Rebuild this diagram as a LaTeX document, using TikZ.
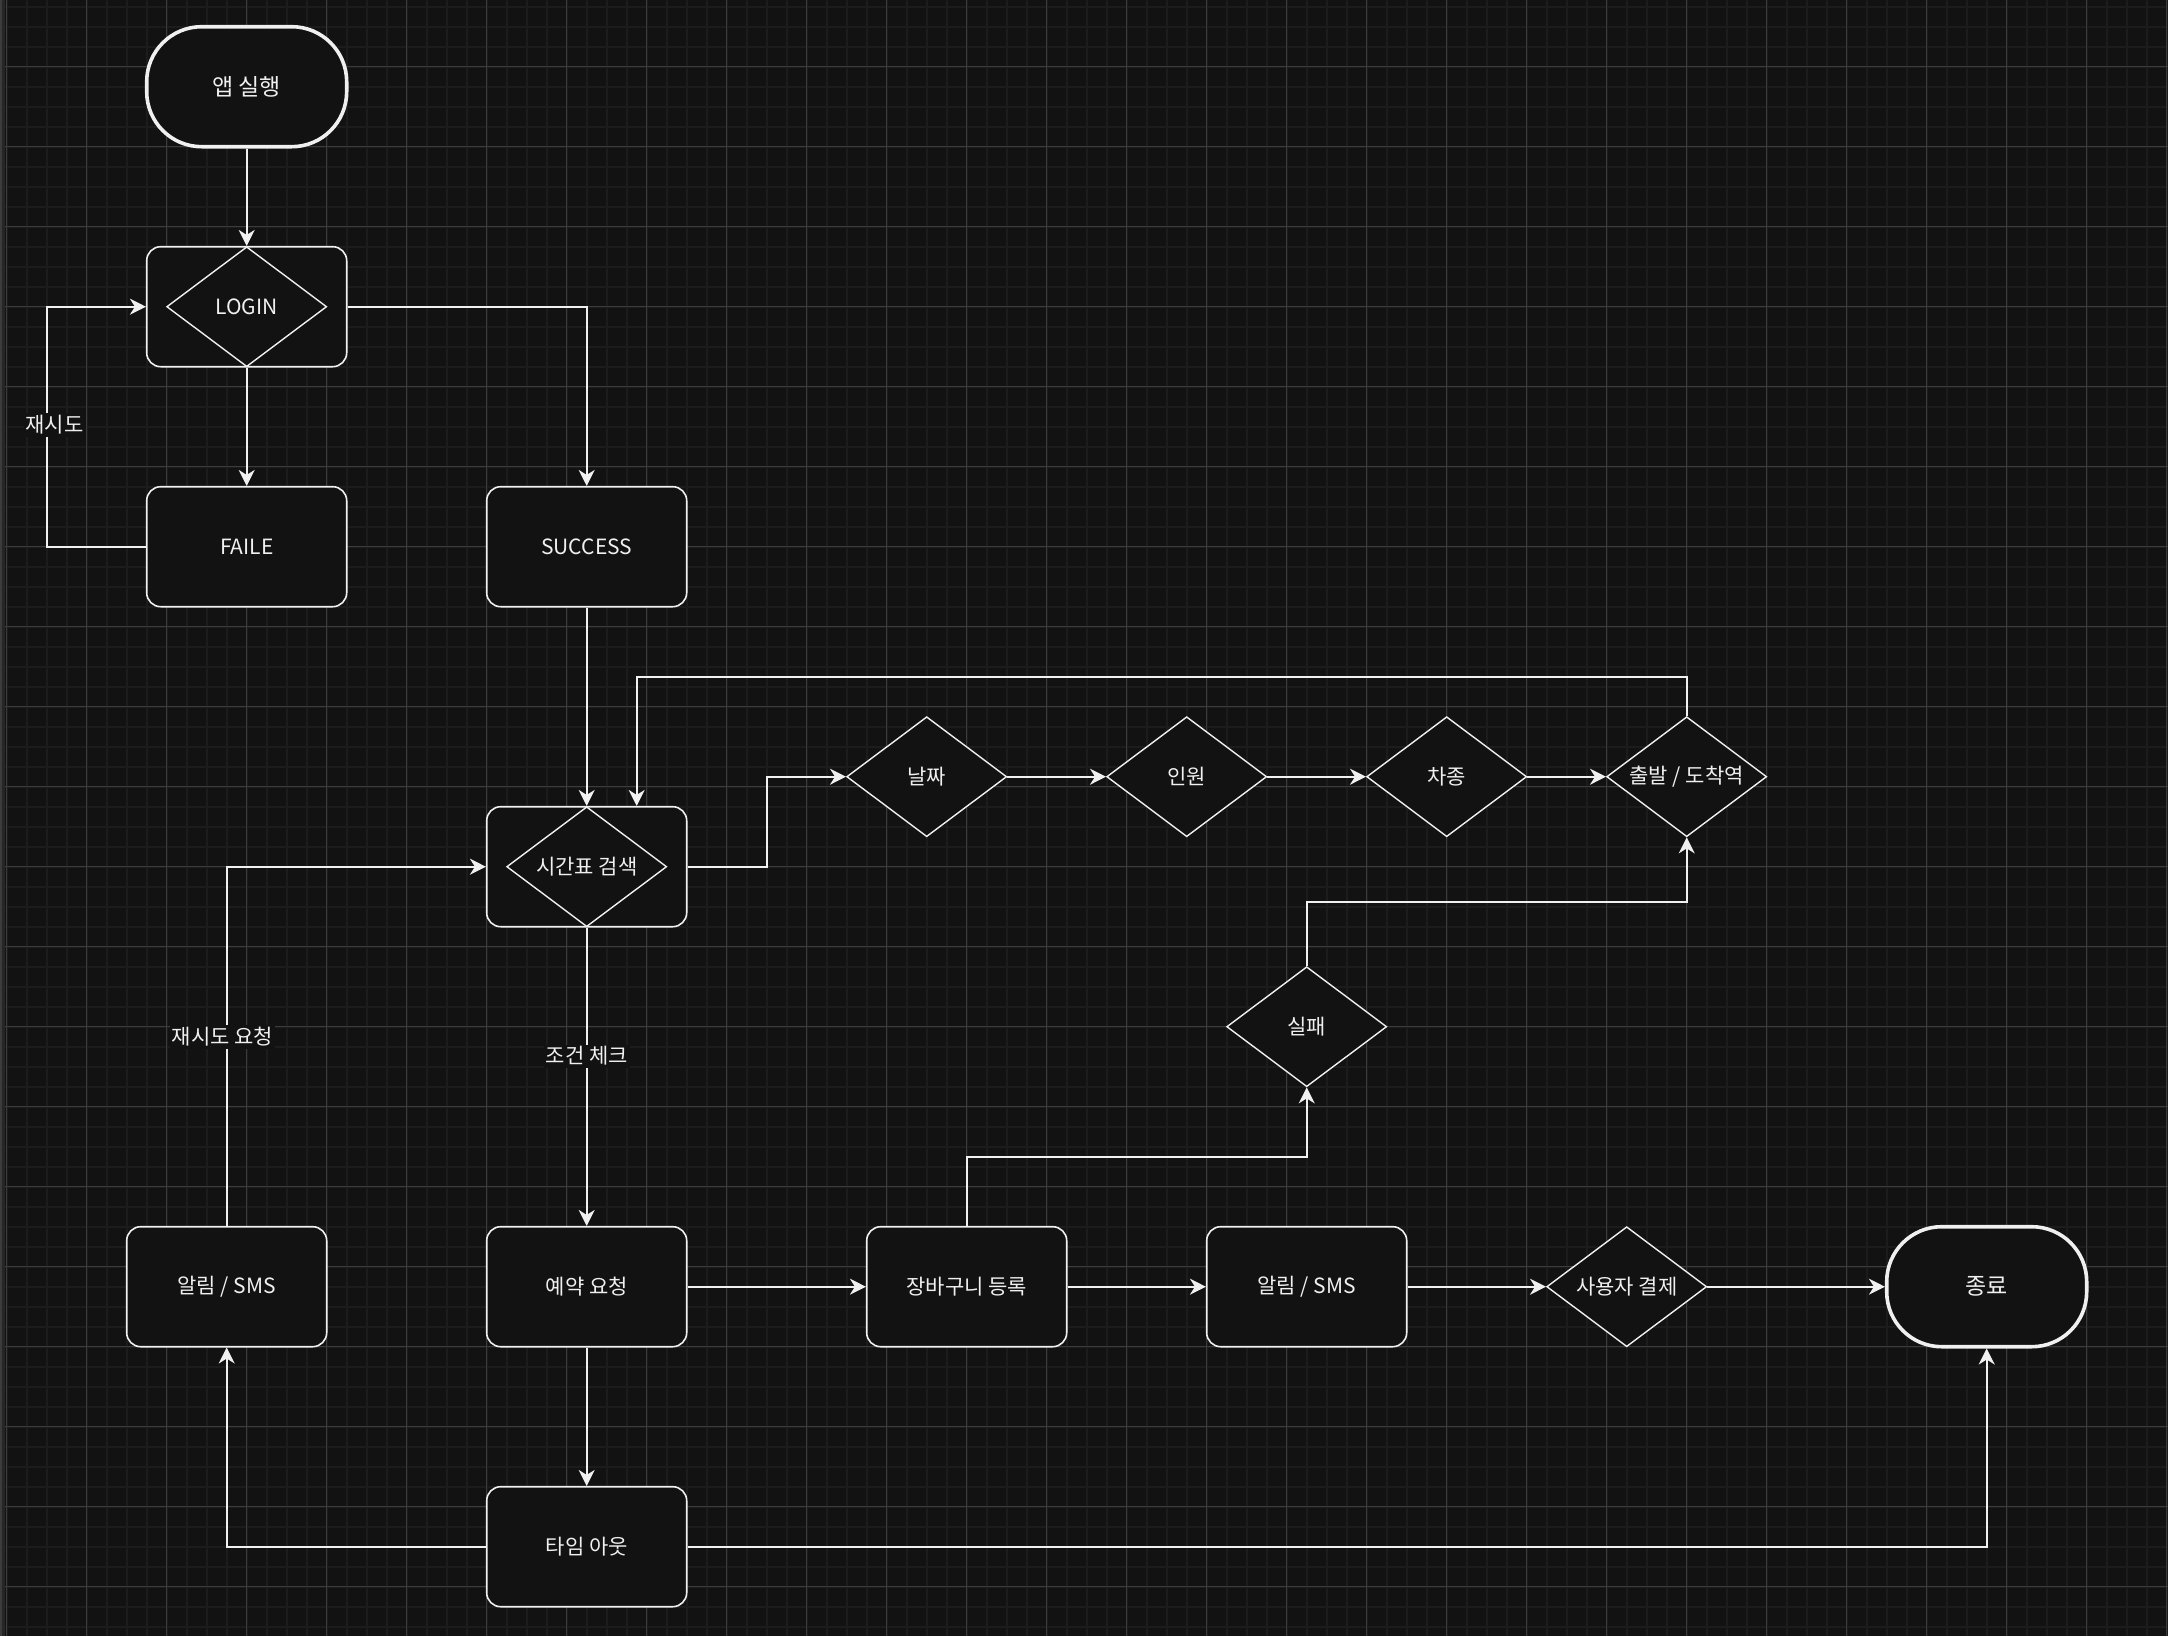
\documentclass[tikz,border=0pt]{standalone}
\usepackage{fontspec}
\setmainfont{Noto Sans CJK KR}
\usetikzlibrary{shapes.geometric,arrows.meta}
\definecolor{bg}{HTML}{121212}
\definecolor{boxfill}{HTML}{121212}
\definecolor{fg}{HTML}{F0F0F0}
\definecolor{minorgrid}{HTML}{1C1C1C}
\definecolor{majorgrid}{HTML}{3C3C3C}
\definecolor{edgestrip}{HTML}{262626}
\newcommand\nodefont{\fontsize{21}{25}\selectfont}
\newcommand\termfont{\fontsize{23}{27}\selectfont}
\newcommand\zw[1]{\makebox[0pt]{#1}}
\tikzset{
  box/.style={draw=fg, fill=boxfill, line width=1.6pt, rounded corners=14pt,
    minimum width=200pt, minimum height=120pt, inner sep=0pt, text=fg, font=\nodefont},
  term/.style={box, line width=3.6pt, rounded corners=55pt, font=\termfont},
  dia/.style={diamond, draw=fg, fill=boxfill, line width=1.4pt, minimum width=160pt,
    minimum height=120pt, inner sep=0pt, text=fg, font=\nodefont},
  arr/.style={draw=fg, line width=1.6pt, -{Stealth[length=16pt,width=16pt,inset=5pt]}},
  lbl/.style={fill=bg, text=fg, font=\nodefont, inner sep=2pt},
}
\begin{document}
\begin{tikzpicture}[x=1pt,y=-1pt]
\useasboundingbox (0,0) rectangle (2168,1636);
\fill[bg] (0,0) rectangle (2168,1636);
% grid
\foreach \i in {0,...,108} {
  \draw[minorgrid, line width=2pt] ({6.7+20*\i},0) -- ({6.7+20*\i},1636);
}
\foreach \i in {0,...,81} {
  \draw[minorgrid, line width=2pt] (0,{6.7+20*\i}) -- (2168,{6.7+20*\i});
}
\foreach \i in {0,...,27} {
  \draw[majorgrid, line width=1pt] ({6.7+80*\i},0) -- ({6.7+80*\i},1636);
}
\foreach \i in {0,...,19} {
  \draw[majorgrid, line width=1pt] (0,{66.7+80*\i}) -- (2168,{66.7+80*\i});
}
\fill[edgestrip] (0,0) rectangle (5,1636);
\fill[majorgrid] (0,0) rectangle (1.5,1636);

% nodes
\node[term] (start) at (246.7,86.7) {앱 실행};
\node[box] (login) at (246.7,306.7) {};
\node[dia] (loginD) at (246.7,306.7) {\zw{LOGIN}};
\node[box] (faile) at (246.7,546.7) {FAILE};
\node[box] (success) at (586.7,546.7) {SUCCESS};
\node[box] (search) at (586.7,866.7) {};
\node[dia] (searchD) at (586.7,866.7) {\zw{시간표 검색}};
\node[dia] (date) at (926.7,776.7) {\zw{날짜}};
\node[dia] (people) at (1186.7,776.7) {\zw{인원}};
\node[dia] (car) at (1446.7,776.7) {\zw{차종}};
\node[dia] (dep) at (1686.7,776.7) {\zw{출발 / 도착역}};
\node[dia] (fail) at (1306.7,1026.7) {\zw{실패}};
\node[box] (sms1) at (226.7,1286.7) {알림 / SMS};
\node[box] (reserve) at (586.7,1286.7) {예약 요청};
\node[box] (cart) at (966.7,1286.7) {장바구니 등록};
\node[box] (sms2) at (1306.7,1286.7) {알림 / SMS};
\node[dia] (pay) at (1626.7,1286.7) {\zw{사용자 결제}};
\node[term] (end) at (1986.7,1286.7) {종료};
\node[box] (timeout) at (586.7,1546.7) {타임 아웃};

% helper coordinates
\coordinate (retryx) at (46.7,0);
\coordinate (toploop) at (636.7,676.7);
\coordinate (jog1) at (766.7,0);
\coordinate (jy) at (0,902);
\coordinate (cy) at (0,1157);

% edges
\draw[arr] (start) -- (login);
\draw[arr] (login) -- (faile);
\draw[arr] (login.east) -| (success.north);
\draw[arr] (faile.west) -- (retryx |- faile.west) -- (retryx |- login.west) -- (login.west);
\draw[arr] (success) -- (search);
\draw[arr] (dep.north) |- (toploop) -- (toploop |- search.north);
\draw[arr] (search.east) -- (jog1 |- search.east) -- (jog1 |- date.west) -- (date.west);
\draw[arr] (date) -- (people);
\draw[arr] (people) -- (car);
\draw[arr] (car) -- (dep);
\draw[arr] (fail.north) -- (fail.north |- jy) -- (dep.south |- jy) -- (dep.south);
\draw[arr] (search) -- (reserve);
\draw[arr] (sms1.north) |- (search.west);
\draw[arr] (reserve) -- (cart);
\draw[arr] (cart.north) -- (cart.north |- cy) -- (fail.south |- cy) -- (fail.south);
\draw[arr] (cart) -- (sms2);
\draw[arr] (sms2) -- (pay);
\draw[arr] (pay) -- (end);
\draw[arr] (reserve) -- (timeout);
\draw[arr] (timeout.west) -| (sms1.south);
\draw[arr] (timeout.east) -| (end.south);

% labels
\node[lbl] (lRetry) at (54.6,425) {재시도};
\node[lbl] (lRetryReq) at (222.6,1037) {재시도 요청};
\node[lbl] (lCheck) at (586.7,1056) {조건 체크};
\end{tikzpicture}
\end{document}
